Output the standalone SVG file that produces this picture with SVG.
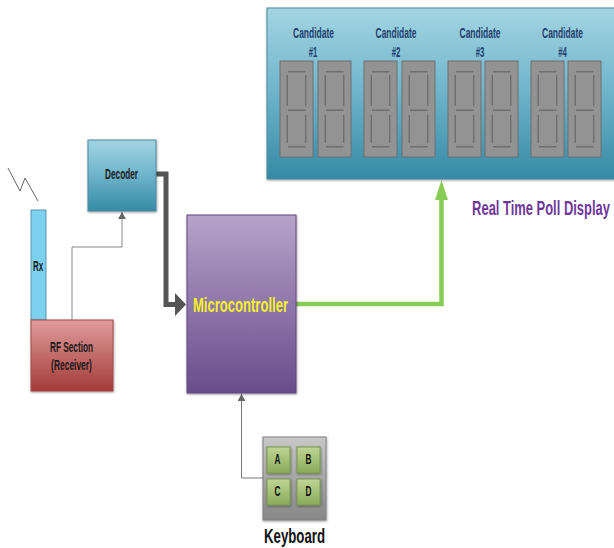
<svg xmlns="http://www.w3.org/2000/svg" xmlns:xlink="http://www.w3.org/1999/xlink" width="614" height="548" viewBox="0 0 614 548">
<style>
text{font-family:"Liberation Sans",Arial,sans-serif;font-weight:bold;text-anchor:middle;fill:#1a1a1a}
.cand{fill:#1f3f6e;font-size:14px}
.key{font-size:15px;fill:#111}
.lbl{font-size:14px}
.seg{stroke:#6e6e6e;stroke-width:1.4;fill:none}
.digit{fill:#939393;stroke:#6f6f6f;stroke-width:1}
.box{stroke-width:1}
</style>
<defs>
<linearGradient id="teal" x1="0" y1="0" x2="0" y2="1"><stop offset="0" stop-color="#a3d5e2"/><stop offset=".45" stop-color="#73b7cd"/><stop offset="1" stop-color="#358aa6"/></linearGradient>
<linearGradient id="red" x1="0" y1="0" x2="0" y2="1"><stop offset="0" stop-color="#e09c9b"/><stop offset="1" stop-color="#a33b39"/></linearGradient>
<linearGradient id="purple" x1="0" y1="0" x2="0" y2="1"><stop offset="0" stop-color="#b6a3c9"/><stop offset="1" stop-color="#684c8c"/></linearGradient>
<linearGradient id="grey" x1="0" y1="0" x2="0" y2="1"><stop offset="0" stop-color="#c8c8c8"/><stop offset="1" stop-color="#868686"/></linearGradient>
<linearGradient id="green" x1="0" y1="0" x2="0" y2="1"><stop offset="0" stop-color="#bfd596"/><stop offset="1" stop-color="#8aab58"/></linearGradient>
<filter id="sh" x="-10%" y="-10%" width="120%" height="120%"><feDropShadow dx="0.5" dy="1" stdDeviation="0.8" flood-color="#000" flood-opacity=".4"/></filter>
<g id="dg">
<rect class="digit" x="0" y="0" width="33" height="96"/>
<path class="seg" d="M8 10.700H25.500M7.300 14V44.700M25.700 14V44.700M8 49.300H25.500M7.300 54V82M25.700 54V82M8 85.700H25.500"/>
</g>
<marker id="ah" markerUnits="userSpaceOnUse" markerWidth="8" markerHeight="9" refX="7" refY="4" orient="auto"><path d="M0 0L7 4L0 8Z" fill="#666"/></marker>
</defs>

<g id="connectors" fill="none">
<path d="M8 168L20 191L25 178L38 201" stroke="#666" stroke-width="1"/>
<path d="M72 320V247H122V212" stroke="#8a8a8a" stroke-width="1" marker-end="url(#ah)"/>
<path d="M263 478H241.500V394" stroke="#777" stroke-width="1" marker-end="url(#ah)"/>
<path d="M156 174H166V304.500H176" stroke="#555" stroke-width="5"/>
<path d="M175 293L186 304.500L175 316Z" fill="#555"/>
<path d="M296 304H441.500V198" stroke="#86cc55" stroke-width="4.500"/>
<path d="M435 200L441.500 180L448 200Z" fill="#86cc55"/>
</g>

<g id="display">
<rect x="267" y="8" width="352" height="171" fill="url(#teal)" stroke="#4d8a9e" filter="url(#sh)"/>
<use xlink:href="#dg" href="#dg" x="280" y="61"/><use xlink:href="#dg" href="#dg" x="318" y="61"/>
<use xlink:href="#dg" href="#dg" x="364" y="61"/><use xlink:href="#dg" href="#dg" x="402" y="61"/>
<use xlink:href="#dg" href="#dg" x="448" y="61"/><use xlink:href="#dg" href="#dg" x="485" y="61"/>
<use xlink:href="#dg" href="#dg" x="531" y="61"/><use xlink:href="#dg" href="#dg" x="568" y="61"/>
<text class="cand" transform="translate(313.500 38) scale(.62 1)" textLength="66" lengthAdjust="spacingAndGlyphs">Candidate</text>
<text class="cand" transform="translate(313 57) scale(.62 1)" textLength="14" lengthAdjust="spacingAndGlyphs">#1</text>
<text class="cand" transform="translate(396 38) scale(.62 1)" textLength="66" lengthAdjust="spacingAndGlyphs">Candidate</text>
<text class="cand" transform="translate(396 57) scale(.62 1)" textLength="14" lengthAdjust="spacingAndGlyphs">#2</text>
<text class="cand" transform="translate(480 38) scale(.62 1)" textLength="66" lengthAdjust="spacingAndGlyphs">Candidate</text>
<text class="cand" transform="translate(480 57) scale(.62 1)" textLength="14" lengthAdjust="spacingAndGlyphs">#3</text>
<text class="cand" transform="translate(562.500 38) scale(.62 1)" textLength="66" lengthAdjust="spacingAndGlyphs">Candidate</text>
<text class="cand" transform="translate(562.500 57) scale(.62 1)" textLength="14" lengthAdjust="spacingAndGlyphs">#4</text>
</g>
<text transform="translate(541 215) scale(.65 1)" font-size="21" style="fill:#70379a" textLength="212" lengthAdjust="spacingAndGlyphs">Real Time Poll Display</text>

<g id="decoder">
<rect class="box" x="88" y="140" width="68" height="71" fill="url(#teal)" stroke="#4d8a9e" filter="url(#sh)"/>
<text class="lbl" transform="translate(121.500 179) scale(.6 1)" textLength="55" lengthAdjust="spacingAndGlyphs">Decoder</text>
</g>
<g id="rx">
<rect class="box" x="31" y="210" width="15" height="110" fill="#7dd0ee" stroke="#5b93ad"/>
<text class="lbl" transform="translate(38 270.500) scale(.6 1)" textLength="17" lengthAdjust="spacingAndGlyphs">Rx</text>
</g>
<g id="rf">
<rect class="box" x="31" y="320" width="82" height="71" fill="url(#red)" stroke="#a34a48" filter="url(#sh)"/>
<text class="lbl" transform="translate(71.500 351.500) scale(.6 1)" textLength="72" lengthAdjust="spacingAndGlyphs">RF Section</text>
<text class="lbl" transform="translate(71.500 370) scale(.6 1)" textLength="68" lengthAdjust="spacingAndGlyphs">(Receiver)</text>
</g>
<g id="microcontroller">
<rect class="box" x="187" y="215" width="109" height="178" fill="url(#purple)" stroke="#63497f" filter="url(#sh)"/>
<text transform="translate(240.500 312) scale(.66 1)" font-size="20" style="fill:#f5f02a" textLength="144" lengthAdjust="spacingAndGlyphs">Microcontroller</text>
</g>
<g id="keyboard">
<rect class="box" x="263" y="437" width="63" height="83" fill="url(#grey)" stroke="#808080" filter="url(#sh)"/>
<rect x="267" y="447" width="23" height="26" fill="url(#green)" stroke="#7a9650" filter="url(#sh)"/>
<rect x="297" y="447" width="23" height="26" fill="url(#green)" stroke="#7a9650" filter="url(#sh)"/>
<rect x="267" y="479" width="23" height="26" fill="url(#green)" stroke="#7a9650" filter="url(#sh)"/>
<rect x="297" y="479" width="23" height="26" fill="url(#green)" stroke="#7a9650" filter="url(#sh)"/>
<text class="key" transform="translate(277.500 464) scale(.55 1)">A</text>
<text class="key" transform="translate(308.500 464) scale(.55 1)">B</text>
<text class="key" transform="translate(277.500 496) scale(.55 1)">C</text>
<text class="key" transform="translate(308.500 496) scale(.55 1)">D</text>
<text transform="translate(294.500 543) scale(.65 1)" font-size="21" style="fill:#111" textLength="94" lengthAdjust="spacingAndGlyphs">Keyboard</text>
</g>
</svg>
